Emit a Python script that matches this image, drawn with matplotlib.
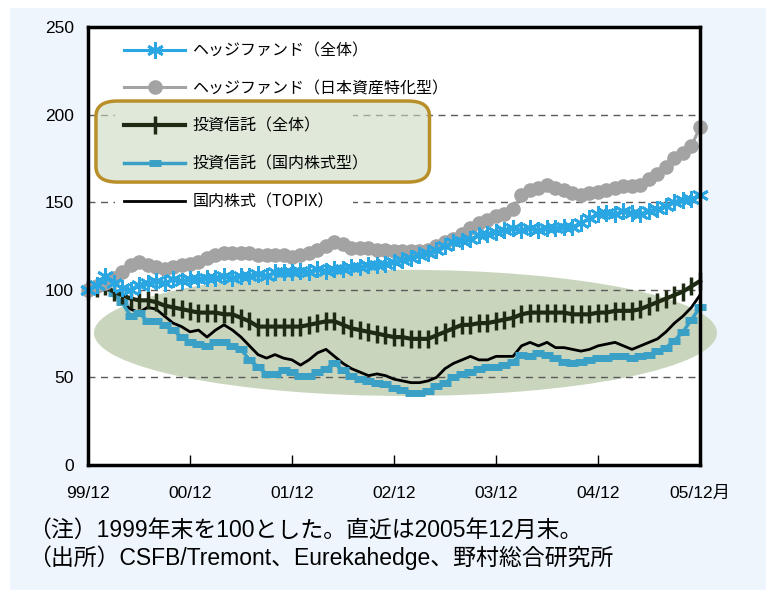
import numpy as np
import matplotlib
matplotlib.use('Agg')
import matplotlib.pyplot as plt
from matplotlib import font_manager as fm
from matplotlib.patches import Ellipse, Rectangle, FancyBboxPatch

# ---- fonts ----
names = {f.name for f in fm.fontManager.ttflist}
latin = 'Liberation Sans Narrow' if 'Liberation Sans Narrow' in names else 'Liberation Sans'
plt.rcParams['font.family'] = [latin, 'Noto Sans CJK JP', 'DejaVu Sans']

# ---- data (monthly, 1999/12 = 100) ----
months = np.arange(73)  # 1999/12 .. 2005/12

hf_all = [100, 103, 108, 104, 101, 100, 103, 104, 105, 104, 106, 105, 106,
          106, 107, 107, 108, 107, 108, 108, 109, 108, 110, 110, 110,
          111, 110, 112, 111, 112, 112, 113, 113, 114, 114, 115, 116,
          117, 118, 120, 121, 123, 125, 127, 128, 129, 131, 132, 133,
          134, 135, 134, 135, 134, 135, 135, 136, 136, 138, 141, 143,
          144, 143, 145, 144, 143, 145, 146, 148, 150, 151, 152, 154]

hf_japan = [100, 102, 104, 107, 110, 114, 116, 114, 113, 112, 113, 114, 115,
            116, 118, 120, 121, 121, 121, 121, 120, 120, 120, 120, 119,
            120, 121, 123, 125, 127, 126, 124, 124, 124, 123, 123, 122,
            122, 122, 122, 123, 125, 127, 129, 132, 135, 138, 140, 142,
            143, 146, 154, 157, 158, 160, 158, 157, 155, 154, 155, 156,
            157, 158, 159, 159, 160, 163, 166, 170, 175, 178, 182, 193]

trust_all = [100, 101, 102, 99, 97, 95, 94, 94, 93, 91, 90, 89, 88,
             87, 87, 87, 86, 86, 84, 82, 79, 79, 79, 79, 79,
             79, 80, 81, 82, 82, 80, 78, 77, 76, 75, 74, 73,
             73, 72, 72, 72, 74, 76, 78, 80, 80, 81, 81, 82,
             83, 84, 86, 87, 87, 87, 87, 87, 86, 86, 86, 87,
             87, 88, 88, 88, 89, 91, 93, 95, 97, 99, 102, 105]

trust_dom = [100, 101, 104, 98, 93, 85, 87, 82, 82, 80, 77, 73, 70,
             69, 68, 70, 70, 68, 66, 60, 56, 52, 52, 54, 53,
             51, 51, 53, 55, 58, 54, 51, 49, 48, 47, 46, 44,
             43, 41, 41, 42, 45, 47, 50, 52, 53, 55, 56, 56,
             57, 59, 63, 62, 64, 63, 61, 59, 58, 59, 60, 61,
             61, 62, 62, 61, 62, 63, 65, 67, 71, 76, 83, 90]

topix = [100, 99, 101, 98, 93, 89, 87, 90, 89, 85, 81, 79, 76,
         77, 73, 77, 80, 77, 73, 68, 63, 61, 63, 61, 60,
         57, 60, 64, 66, 62, 58, 55, 53, 51, 52, 51, 49,
         48, 47, 47, 48, 50, 55, 58, 60, 62, 60, 60, 62,
         62, 62, 68, 70, 68, 70, 67, 67, 66, 65, 66, 68,
         69, 70, 68, 66, 68, 70, 72, 76, 81, 85, 90, 97]

tick_pos = [0, 12, 24, 36, 48, 60, 72]
tick_labels = ['99/12', '00/12', '01/12', '02/12', '03/12', '04/12', '05/12月']

labels = ['ヘッジファンド（全体）', 'ヘッジファンド（日本資産特化型）',
          '投資信託（全体）', '投資信託（国内株式型）', '国内株式（TOPIX）']

# ---- figure ----
W, H = 781, 598
fig = plt.figure(figsize=(W / 100, H / 100), dpi=100)
fig.patch.set_facecolor('white')
fig.patches.append(Rectangle((10 / W, 8 / H), 756 / W, 582 / H,
                             transform=fig.transFigure, facecolor='#eef5fd',
                             edgecolor='none', zorder=-5))

ax = fig.add_axes([88 / W, 133 / H, 612 / W, 438 / H])
ax.set_facecolor('white')
ax.set_xlim(0, 72)
ax.set_ylim(0, 250)

# background ellipse + dashed grid
ax.add_patch(Ellipse((37.35, 75.4), 73.3, 72, facecolor='#c9d6bd',
                     edgecolor='none', zorder=0.5, clip_on=False))
for v in [50, 100, 150, 200]:
    ax.axhline(v, color='#5a5a5a', lw=1, ls=(0, (5, 4)), zorder=1)

# white area behind legend text, then the gold rounded box
ax.add_patch(Rectangle((0.044, 0.585), 0.389, 0.38, transform=ax.transAxes,
                       facecolor='white', edgecolor='none', zorder=1.2))
ax.add_patch(FancyBboxPatch((0.013, 0.646), 0.545, 0.185,
                            boxstyle='round,pad=0,rounding_size=0.035',
                            transform=ax.transAxes, facecolor=(0.80, 0.85, 0.76, 0.6),
                            edgecolor='#b98f2a', lw=2.5, zorder=1.5, clip_on=False))

# series
ax.plot(months, topix, color='black', lw=2, zorder=3, clip_on=False, label=labels[4])
ax.plot(months, trust_dom, color='#3aa0c6', lw=2.5, marker='_', ms=8, mew=5,
        zorder=3.2, clip_on=False, label=labels[3])
ax.plot(months, trust_all, color='#1f2a14', lw=3, marker='|', ms=13, mew=2.5,
        zorder=3.4, clip_on=False, label=labels[2])
ax.plot(months, hf_japan, color='#a3a3a3', lw=2.2, marker='o', ms=9.5,
        zorder=3.6, clip_on=False, label=labels[1])
ax.plot(months, hf_all, color='#2aa7e3', lw=2.2, marker=(6, 2, 0), ms=12, mew=2,
        zorder=3.8, clip_on=False, label=labels[0])

handles, labs = ax.get_legend_handles_labels()
order = [4, 3, 2, 1, 0]
leg = ax.legend([handles[i] for i in order], [labs[i] for i in order],
                loc='upper left', bbox_to_anchor=(0.036, 0.998), frameon=False,
                handlelength=3.8, handletextpad=0.45, labelspacing=1.3,
                borderpad=0.4, prop={'family': ['Noto Sans CJK JP'], 'size': 11.5})
leg.set_zorder(5)

# axes styling
for s in ax.spines.values():
    s.set_linewidth(2.5)
    s.set_color('black')
    s.set_zorder(6)
ax.set_yticks([0, 50, 100, 150, 200, 250])
ax.tick_params(axis='y', length=0, pad=10, labelsize=12.5)
ax.set_xticks(tick_pos)
ax.set_xticklabels(tick_labels)
ax.tick_params(axis='x', direction='in', length=7, width=1, pad=15, labelsize=12.5)

# notes
fig.text(28 / W, 1 - 530 / H, '（注）1999年末を100とした。直近は2005年12月末。',
         fontsize=16.5, va='center', ha='left')
fig.text(28 / W, 1 - 558 / H, '（出所）CSFB/Tremont、Eurekahedge、野村総合研究所',
         fontsize=16.5, va='center', ha='left')

fig.savefig('out.png', dpi=100)
